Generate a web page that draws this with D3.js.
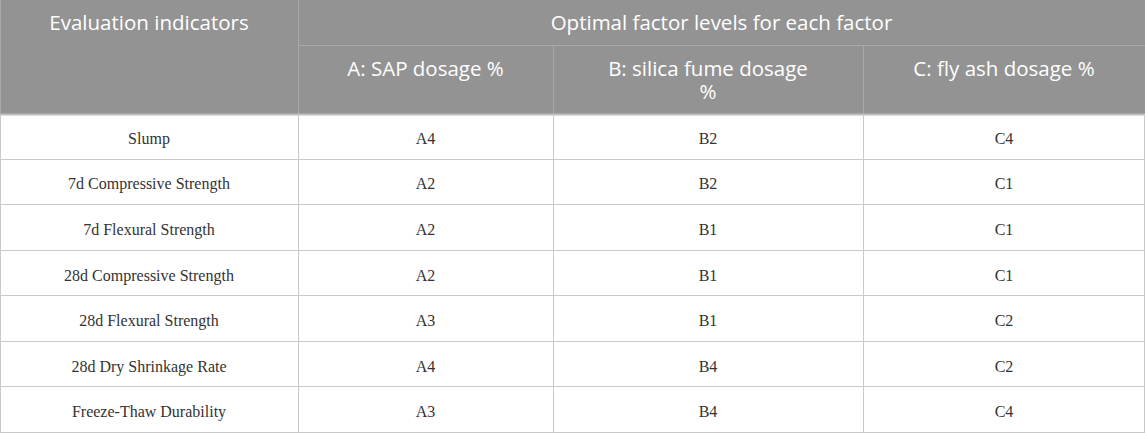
<!DOCTYPE html>
<html>
<head>
<meta charset="utf-8">
<script src="https://cdn.jsdelivr.net/npm/d3@7"></script>
<style>
html,body{margin:0;padding:0;background:#fff;}
svg{display:block;}
</style>
</head>
<body>
<svg id="chart" width="1145" height="434"></svg>
<script>
const indicators = ["Slump","7d Compressive Strength","7d Flexural Strength","28d Compressive Strength","28d Flexural Strength","28d Dry Shrinkage Rate","Freeze-Thaw Durability"];
const factorA = ["A4","A2","A2","A2","A3","A4","A3"];
const factorB = ["B2","B2","B1","B1","B1","B4","B4"];
const factorC = ["C4","C1","C1","C1","C2","C2","C4"];
const headerMain = ["Evaluation indicators","Optimal factor levels for each factor"];
const headerSub = [["A: SAP dosage %"],["B: silica fume dosage","%"],["C: fly ash dosage %"]];

const W = 1145, H = 434;
const colEdges = [0, 298, 553, 863, 1145];
const headMid = 45, headBot = 114, bodyBot = 433;

const svg = d3.select("#chart");
const y = d3.scaleBand().domain(indicators).range([headBot, bodyBot]);
const colX = i => colEdges[i];
const colC = i => (colEdges[i] + colEdges[i+1]) / 2;

// header background
svg.append("rect").attr("x",0).attr("y",0).attr("width",W).attr("height",headBot).attr("fill","#939393");
// header internal lines
const hl = svg.append("g").attr("stroke","#a9a9a9").attr("stroke-width",1);
hl.append("line").attr("x1",colX(1)).attr("x2",W).attr("y1",headMid+0.5).attr("y2",headMid+0.5);
hl.append("line").attr("x1",colX(1)+0.5).attr("x2",colX(1)+0.5).attr("y1",0).attr("y2",headBot);
[2,3].forEach(i=>hl.append("line").attr("x1",colX(i)+0.5).attr("x2",colX(i)+0.5).attr("y1",headMid).attr("y2",headBot));

// header texts
const hf = "'Open Sans', 'Noto Sans', sans-serif";
const hs = 20.5;
svg.append("text").attr("x",colC(0)).attr("y",30).attr("text-anchor","middle")
  .attr("font-family",hf).attr("font-size",hs).attr("fill","#fff").text(headerMain[0]);
svg.append("text").attr("x",(colX(1)+W)/2).attr("y",30).attr("text-anchor","middle")
  .attr("font-family",hf).attr("font-size",hs).attr("fill","#fff").text(headerMain[1]);
headerSub.forEach((lines,i)=>{
  const t = svg.append("text").attr("text-anchor","middle").attr("font-family",hf)
    .attr("font-size",hs).attr("fill","#fff");
  lines.forEach((ln,j)=>t.append("tspan").attr("x",colC(i+1)).attr("y",76 + j*22.5).text(ln));
});

// body grid
const g = svg.append("g").attr("stroke","#c9c9c9").attr("stroke-width",1);
g.append("line").attr("x1",0).attr("x2",W).attr("y1",headBot+0.5).attr("y2",headBot+0.5).attr("stroke","#bdbdbd").attr("stroke-width",2);
indicators.forEach(d=>{
  const yy = Math.round(y(d)+y.bandwidth());
  g.append("line").attr("x1",0).attr("x2",W).attr("y1",yy-0.5).attr("y2",yy-0.5);
});
[0,1,2,3].forEach(i=>g.append("line").attr("x1",colX(i)+0.5).attr("x2",colX(i)+0.5).attr("y1",headBot).attr("y2",bodyBot));
g.append("line").attr("x1",W-0.5).attr("x2",W-0.5).attr("y1",headBot).attr("y2",bodyBot);
svg.append("line").attr("x1",0.5).attr("x2",0.5).attr("y1",0).attr("y2",headBot).attr("stroke","#a9a9a9");

// body text
const bf = "'Liberation Serif', 'DejaVu Serif', serif";
const cols = [indicators, factorA, factorB, factorC];
cols.forEach((arr,ci)=>{
  svg.append("g").selectAll("text").data(arr).join("text")
    .attr("x",colC(ci))
    .attr("y",(d,i)=>y(indicators[i]) + y.bandwidth()/2 + 7)
    .attr("text-anchor","middle")
    .attr("font-family",bf).attr("font-size",16).attr("fill","#333")
    .text(d=>d);
});
</script>
</body>
</html>
